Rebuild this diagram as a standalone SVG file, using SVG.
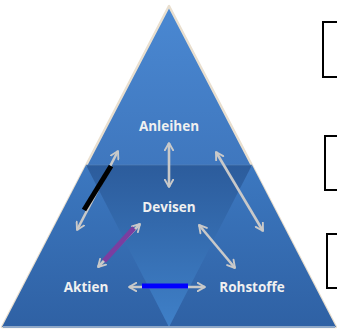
<svg xmlns="http://www.w3.org/2000/svg" width="337" height="330" viewBox="0 0 337 330">
<defs>
<linearGradient id="gTop" x1="0" y1="0" x2="0" y2="1">
<stop offset="0" stop-color="#4a88d2"/>
<stop offset="1" stop-color="#3466aa"/>
</linearGradient>
<linearGradient id="gSide" x1="0" y1="0" x2="0" y2="1">
<stop offset="0" stop-color="#3c78c0"/>
<stop offset="1" stop-color="#2f61a4"/>
</linearGradient>
<linearGradient id="gMid" x1="0" y1="0" x2="0" y2="1">
<stop offset="0" stop-color="#2c5c9c"/>
<stop offset="1" stop-color="#3f80c8"/>
</linearGradient>
<marker id="ah" viewBox="0 0 10 10" refX="8" refY="5" markerWidth="4" markerHeight="4" orient="auto-start-reverse" markerUnits="strokeWidth">
<path d="M1,1 L8,5 L1,9" fill="none" stroke="#c9c9c9" stroke-width="1.8" stroke-linecap="round" stroke-linejoin="round"/>
</marker>
<style>
.lbl{font-family:"Open Sans","Liberation Sans",sans-serif;font-weight:bold;font-size:13.5px;fill:#f0f0f0;text-anchor:middle}
.arr{stroke:#c9c9c9;stroke-width:2.6;fill:none;marker-start:url(#ah);marker-end:url(#ah)}
.box{fill:#ffffff;stroke:#000000;stroke-width:2}
</style>
</defs>
<rect width="337" height="330" fill="#ffffff"/>
<g id="pyramid">
<polygon points="169,6 2,327 336,327" fill="url(#gTop)" stroke="#e9dfcf" stroke-width="2.5" stroke-linejoin="round"/>
<polygon points="86,165 2,327 169,327" fill="url(#gSide)"/>
<polygon points="252,165 169,327 336,327" fill="url(#gSide)"/>
<polygon points="86,165 252,165 169,327" fill="url(#gMid)"/>
<line x1="86" y1="165" x2="252" y2="165" stroke="#5a84b8" stroke-width="1" opacity="0.6"/>
<line x1="3" y1="327" x2="335" y2="327" stroke="#8fa8c8" stroke-width="2"/>
</g>
<g id="boxes">
<rect class="box" x="323" y="22" width="20" height="55"/>
<rect class="box" x="325" y="136" width="20" height="54"/>
<rect class="box" x="327" y="234" width="20" height="54"/>
</g>
<g id="connectors">
<line class="arr" x1="169" y1="143" x2="169" y2="187"/>
<line class="arr" x1="118" y1="151" x2="77" y2="230"/>
<line class="arr" x1="216" y1="152" x2="263" y2="231"/>
<line class="arr" x1="140" y1="224" x2="98" y2="267"/>
<line class="arr" x1="199" y1="225" x2="235" y2="268"/>
<line class="arr" x1="129" y1="287" x2="205" y2="287"/>
</g>
<g id="marks">
<line x1="111" y1="166" x2="84" y2="210" stroke="#000000" stroke-width="5"/>
<line x1="134" y1="228" x2="104" y2="261" stroke="#7a3ea0" stroke-width="5"/>
<line x1="142" y1="286" x2="188" y2="286" stroke="#0000ff" stroke-width="5"/>
</g>
<g id="n-anleihen"><text class="lbl" x="169" y="131">Anleihen</text></g>
<g id="n-devisen"><text class="lbl" x="169" y="212">Devisen</text></g>
<g id="n-aktien"><text class="lbl" x="86" y="292">Aktien</text></g>
<g id="n-rohstoffe"><text class="lbl" x="252" y="292">Rohstoffe</text></g>
</svg>
